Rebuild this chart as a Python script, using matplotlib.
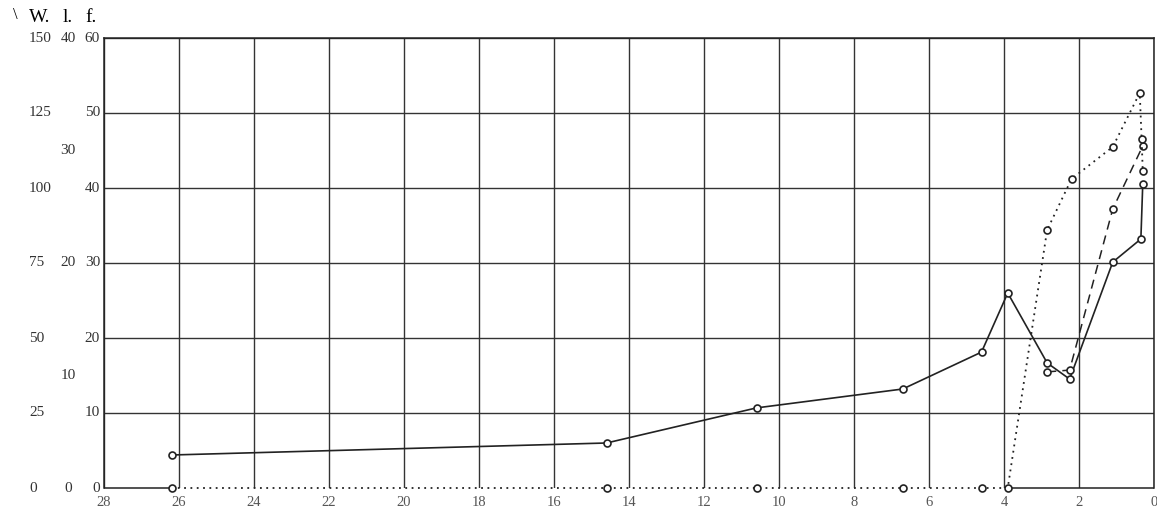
import matplotlib
matplotlib.use("Agg")
import matplotlib.pyplot as plt
import matplotlib.transforms as mtransforms

########################################################################
# Data (all values on the W. scale, 0..150)

x_ticks = [28, 26, 24, 22, 20, 18, 16, 14, 12, 10, 8, 6, 4, 2, 0]

W_ticks = [0, 25, 50, 75, 100, 125, 150]
l_ticks = [0, 10, 20, 30, 40]
f_ticks = [0, 10, 20, 30, 40, 50, 60]

solid_x = [26.2, 14.6, 10.6, 6.7, 4.6, 3.9, 2.85, 2.25, 1.1, 0.35, 0.3]
solid_y = [11, 15, 26.7, 33, 45.3, 65, 41.7, 36.3, 75.3, 83, 101.3]

dashed_x = [2.85, 2.25, 1.1, 0.3]
dashed_y = [38.7, 39.3, 93, 114]

dotted_x = [26.2, 14.6, 10.6, 6.7, 4.6, 3.9, 2.85, 2.2, 1.1, 0.38, 0.33, 0.3]
dotted_y = [0, 0, 0, 0, 0, 0, 86, 103, 113.7, 131.7, 116.3, 105.7]

########################################################################
# Figure

plt.rcParams['font.family'] = ['Liberation Serif', 'DejaVu Serif']

fig = plt.figure(figsize=(11.57, 5.13), dpi=100)
ax = fig.add_axes([104 / 1157, 25 / 513, 1050 / 1157, 450 / 513])

ax.set_xlim(28, 0)
ax.set_ylim(0, 150)
ax.set_xticks(x_ticks)
ax.set_xticklabels([str(v) for v in x_ticks], fontsize=10.5, color='#555555')
ax.set_yticks(W_ticks[1:])   # grid only, labels are written below
ax.set_yticklabels([])
ax.tick_params(length=0, pad=6)
ax.grid(True, color='#333333', linewidth=1.0)
for s in ax.spines.values():
    s.set_color('#222222')
    s.set_linewidth(1.1)

# the bottom edge is dotted where the dotted curve lies on zero
ax.spines['bottom'].set_visible(False)
ax.hlines([0, 0], [28, dotted_x[5]], [dotted_x[0], 0], color='#222222',
          linewidth=1.1, clip_on=False)

mk = dict(marker='o', markersize=5, markerfacecolor='white',
          markeredgecolor='#222222', markeredgewidth=1.2, clip_on=False)

ax.plot(solid_x, solid_y, color='#222222', linewidth=1.2, zorder=4, **mk)
ax.plot(dashed_x, dashed_y, color='#222222', linewidth=1.1,
        linestyle=(0, (6, 4)), zorder=4, **mk)
ax.plot(dotted_x, dotted_y, color='#222222', linewidth=1.3,
        linestyle=(0, (1, 2.5)), zorder=4, **mk)

########################################################################
# Three y scales written at the left

tr = mtransforms.blended_transform_factory(fig.transFigure, ax.transData)
lab = dict(fontsize=11, color='#333333', va='center', transform=tr)

for v in W_ticks:
    ax.text(29 / 1157, v, str(v), ha='left', **lab)
for v in l_ticks:
    ax.text(68 / 1157, v * 150 / 40, str(v), ha='center', **lab)
for v in f_ticks:
    ax.text(100 / 1157, v * 150 / 60, str(v), ha='right', **lab)

fig.text(29 / 1157, 1 - 17 / 513, "W.", fontsize=14, ha='left', va='center')
fig.text(68 / 1157, 1 - 17 / 513, "l.", fontsize=14, ha='center', va='center')
fig.text(97 / 1157, 1 - 17 / 513, "f.", fontsize=14, ha='right', va='center')
fig.text(15 / 1157, 1 - 15 / 513, "\\", fontsize=12, ha='center', va='center')

fig.savefig("out.png", dpi=100, facecolor='white')
